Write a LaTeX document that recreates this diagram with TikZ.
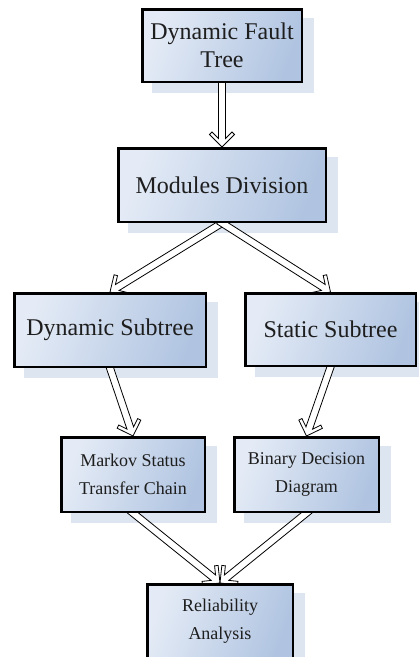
\documentclass[tikz,border=0pt]{standalone}
\usepackage{fontspec}
\setmainfont{Liberation Serif}
\usetikzlibrary{calc}
\definecolor{boxlight}{RGB}{228,235,246}
\definecolor{boxdark}{RGB}{176,196,225}
\definecolor{shadowcol}{RGB}{221,229,240}
\definecolor{txtcol}{RGB}{30,30,30}
\pgfdeclarelayer{shadowlayer}
\pgfdeclarelayer{arrowlayer}
\pgfsetlayers{shadowlayer,arrowlayer,main}
\tikzset{
  box/.style={draw=black, line width=2.5pt, left color=boxlight, right color=boxdark,
    shading angle=70, text=txtcol, align=center, inner sep=0pt},
  bigbox/.style={box, font=\fontsize{24}{27.7}\selectfont},
  smallbox/.style={box, font=\fontsize{18}{27.7}\selectfont},
  harrow/.style={fill=white, draw=black, line width=0.8pt, line join=miter},
  shadowbox/.style={fill=shadowcol, draw=none}
}
\newcommand\hollowarrow[2]{%
  \coordinate (ha) at ($(#1)!-4pt!(#2)$);
  \coordinate (hb) at (#2);
  \draw[harrow] ($(ha)!3.5pt!90:(hb)$)
    -- ($(hb)!8.5pt!(ha)!3.5pt!-90:(ha)$)
    -- ($(hb)!15pt!(ha)!10pt!-90:(ha)$)
    -- ($(hb)!12.5pt!(ha)!12.5pt!-90:(ha)$)
    -- (hb)
    -- ($(hb)!12.5pt!(ha)!12.5pt!90:(ha)$)
    -- ($(hb)!15pt!(ha)!10pt!90:(ha)$)
    -- ($(hb)!8.5pt!(ha)!3.5pt!90:(ha)$)
    -- ($(ha)!3.5pt!-90:(hb)$) -- cycle;
}
\newcommand\boxshadow[1]{%
  \fill[shadowbox] ([shift={(11,10)}]#1.south west) rectangle ([shift={(11,10)}]#1.north east);
}
\begin{document}
\begin{tikzpicture}[x=1pt,y=-1pt]
\useasboundingbox (0,0) rectangle (419,657);
\clip (0,0) rectangle (419,657);
\node[bigbox, minimum width=159.5pt, minimum height=72.5pt] (b1) at (222,45.5) {Dynamic Fault\\Tree};
\node[bigbox, minimum width=207.5pt, minimum height=73.5pt] (b2) at (222,185) {Modules Division};
\node[bigbox, minimum width=191.5pt, minimum height=73.5pt] (b3) at (110,330) {Dynamic Subtree};
\node[bigbox, minimum width=170.5pt, minimum height=72.5pt] (b4) at (330.5,329.5) {Static Subtree};
\node[smallbox, minimum width=143.5pt, minimum height=74.5pt] (b5) at (133,474.5) {Markov Status\\Transfer Chain};
\node[smallbox, minimum width=144.5pt, minimum height=74.5pt] (b6) at (306.5,474.5) {Binary Decision\\Diagram};
\node[smallbox, minimum width=145.5pt, minimum height=74.5pt] (b7) at (220,621.5) {Reliability\\Analysis};
\begin{pgfonlayer}{shadowlayer}
  \boxshadow{b1}\boxshadow{b2}\boxshadow{b3}\boxshadow{b4}
  \boxshadow{b5}\boxshadow{b6}\boxshadow{b7}
\end{pgfonlayer}
\begin{pgfonlayer}{arrowlayer}
  \hollowarrow{b1.south}{b2.north}
  \hollowarrow{b2.south}{b3.north}
  \hollowarrow{b2.south}{b4.north}
  \hollowarrow{b3.south}{b5.north}
  \hollowarrow{b4.south}{b6.north}
  \hollowarrow{b5.south}{b7.north}
  \hollowarrow{b6.south}{b7.north}
\end{pgfonlayer}
\end{tikzpicture}
\end{document}
